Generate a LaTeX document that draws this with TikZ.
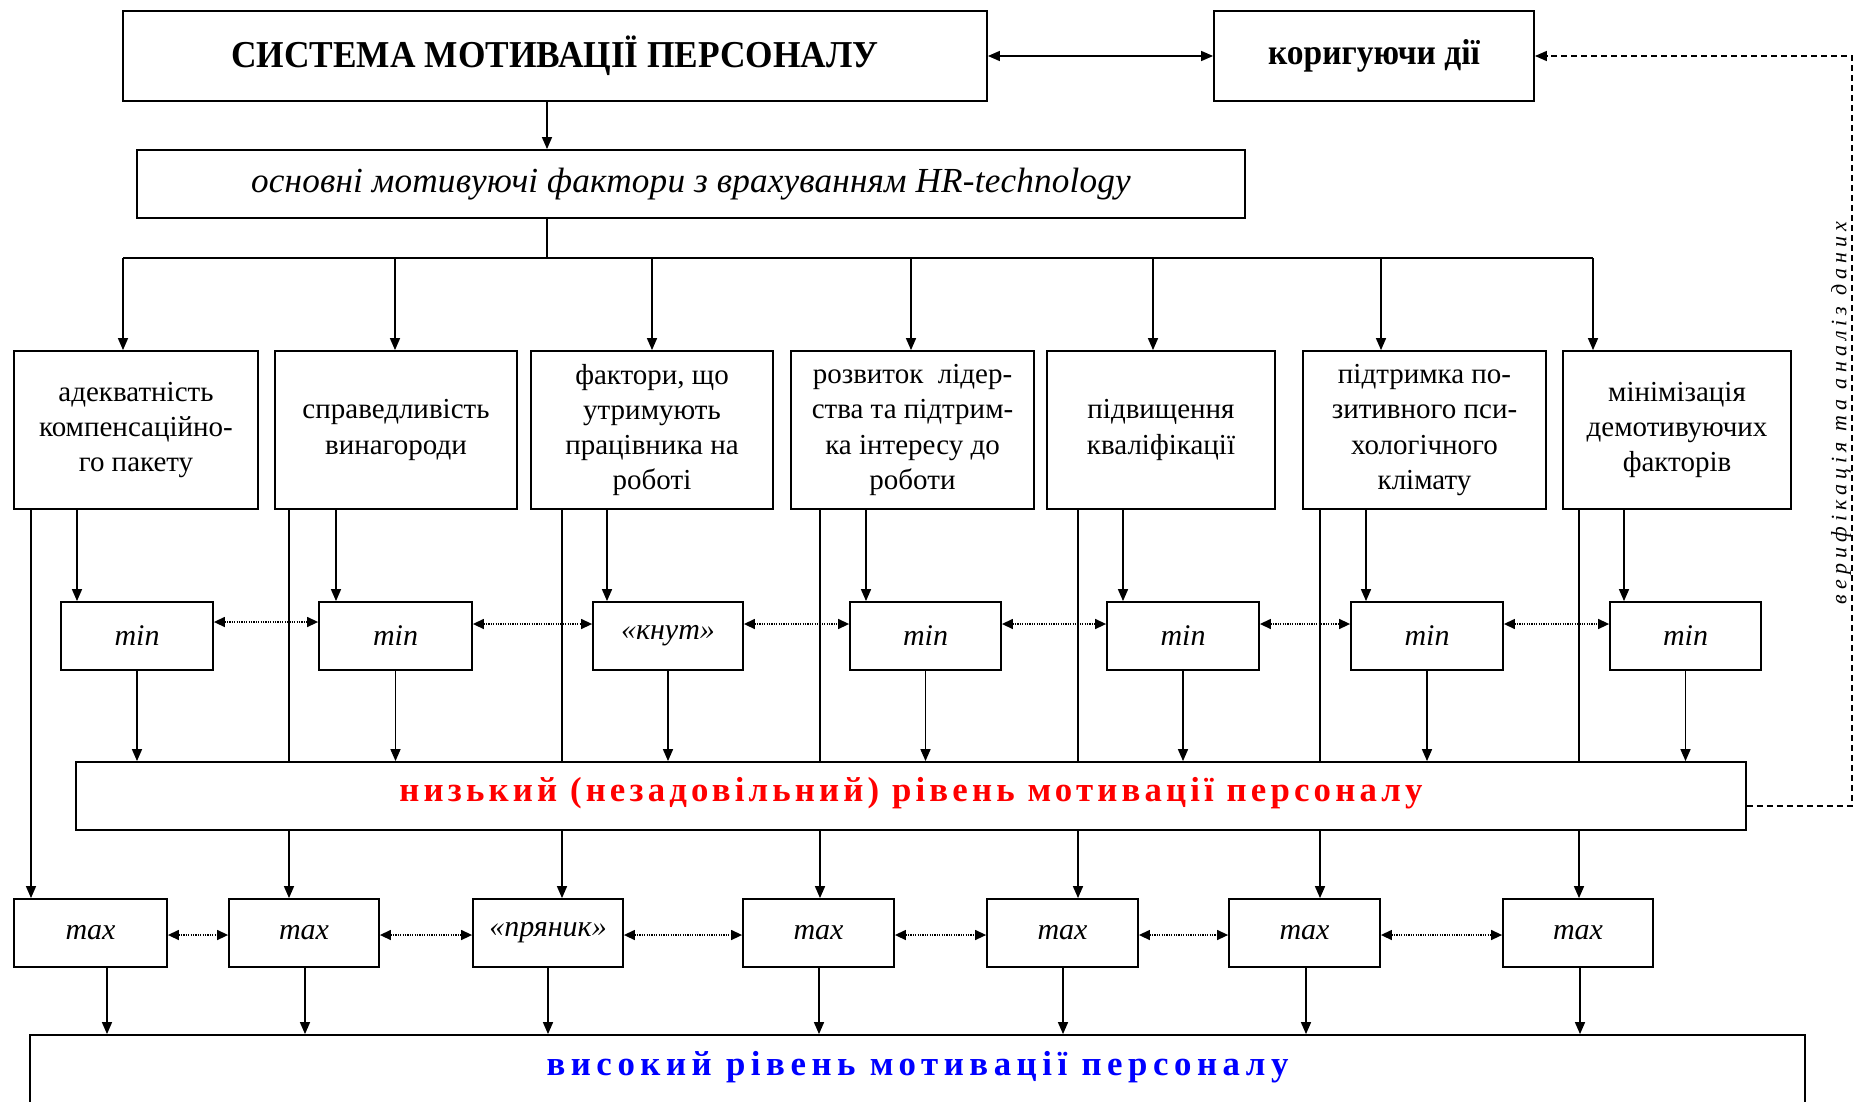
\documentclass[tikz,border=0pt]{standalone}
\usepackage{fontspec}
\setmainfont{Liberation Serif}
\newfontfamily\titlefont[FakeStretch=0.93]{Liberation Serif}
\newfontfamily\redfont[LetterSpace=12]{Liberation Serif}
\newfontfamily\bluefont[LetterSpace=16]{Liberation Serif}
\newfontfamily\vfont[LetterSpace=23]{Liberation Serif}
\newfontfamily\hrfont[LetterSpace=0.5]{Liberation Serif}
\usetikzlibrary{arrows.meta}
\tikzset{
  box/.style={draw, line width=0.9pt, inner sep=0pt, align=center,
    font=\fontsize{14.5}{17.6}\selectfont},
  mbox/.style={box, font=\itshape\fontsize{15}{18}\selectfont},
  ln/.style={line width=0.75pt},
  arr/.style={line width=0.75pt, -{Triangle[length=6pt,width=5pt]}},
  darr/.style={line width=0.75pt, {Triangle[length=6pt,width=5pt]}-{Triangle[length=6pt,width=5pt]}},
  dotarr/.style={line width=0.7pt, dash pattern=on 0.6pt off 0.6pt,
    {Triangle[length=5.5pt,width=5pt]}-{Triangle[length=5.5pt,width=5pt]}},
  fbline/.style={line width=0.75pt, dash pattern=on 3pt off 2pt, -{Triangle[length=6pt,width=5pt]}},
}
\newcommand\bx[7][]{\node[box,minimum width={(#5-#3)*0.5pt},minimum height={(#6-#4)*0.5pt},#1] (#2) at ({(#3+#5)/2},{(#4+#6)/2}) {#7};}
\begin{document}
\begin{tikzpicture}[x=0.5pt,y=-0.5pt]
\clip (0,0) rectangle (1867,1102);
% top
\bx[font=\titlefont\bfseries\fontsize{19}{22}\selectfont]{T1}{123}{11}{987}{101}{СИСТЕМА МОТИВАЦІЇ ПЕРСОНАЛУ}
\bx[font=\titlefont\bfseries\fontsize{18}{22}\selectfont]{T2}{1214}{11}{1534}{101}{коригуючи дії}
\bx[font=\hrfont\itshape\fontsize{17.6}{22}\selectfont]{HR}{137}{150}{1245}{218}{основні мотивуючі фактори з врахуванням HR-technology}
% factor boxes
\bx{f1}{14}{351}{258}{509}{адекватність\\компенсаційно-\\го пакету}
\bx{f2}{275}{351}{517}{509}{справедливість\\винагороди}
\bx{f3}{531}{351}{773}{509}{фактори, що\\утримують\\працівника на\\роботі}
\bx{f4}{791}{351}{1034}{509}{розвиток~~лідер-\\ства та підтрим-\\ка інтересу до\\роботи}
\bx{f5}{1047}{351}{1275}{509}{підвищення\\кваліфікації}
\bx{f6}{1303}{351}{1546}{509}{підтримка по-\\зитивного пси-\\хологічного\\клімату}
\bx{f7}{1563}{351}{1791}{509}{мінімізація\\демотивуючих\\факторів}
% min boxes
\bx[mbox]{m1}{61}{602}{213}{670}{min}
\bx[mbox]{m2}{319}{602}{472}{670}{min}
\bx[mbox]{m3}{593}{602}{743}{670}{«кнут»}
\bx[mbox]{m4}{850}{602}{1001}{670}{min}
\bx[mbox]{m5}{1107}{602}{1259}{670}{min}
\bx[mbox]{m6}{1351}{602}{1503}{670}{min}
\bx[mbox]{m7}{1610}{602}{1761}{670}{min}
% low level
\bx[font=\redfont\bfseries\fontsize{17.4}{20}\selectfont, text={rgb,255:red,255;green,0;blue,0}, text depth=6.5pt]{low}{76}{762}{1746}{830}{низький (незадовільний) рівень мотивації персоналу}
% max boxes
\bx[mbox]{x1}{14}{899}{167}{967}{max}
\bx[mbox]{x2}{229}{899}{379}{967}{max}
\bx[mbox]{x3}{473}{899}{623}{967}{«пряник»}
\bx[mbox]{x4}{743}{899}{894}{967}{max}
\bx[mbox]{x5}{987}{899}{1138}{967}{max}
\bx[mbox]{x6}{1229}{899}{1380}{967}{max}
\bx[mbox]{x7}{1503}{899}{1653}{967}{max}
% high level
\bx[font=\bluefont\bfseries\fontsize{17.4}{20}\selectfont, text={rgb,255:red,0;green,0;blue,255}, text depth=7pt]{high}{30}{1035}{1805}{1106}{високий рівень мотивації персоналу}
% vertical label
\node[rotate=90, inner sep=0pt, font=\vfont\itshape\fontsize{11}{13}\selectfont] (vt) at (1841,413) {верифікація та аналіз даних};
% coordinates
\coordinate (c0) at (547,0);
\coordinate (busL) at (123,258);
\coordinate (busR) at (1593,258);
\foreach \i/\a/\b/\c/\h in {1/123/31/77/107, 2/395/289/336/305, 3/652/562/607/548, 4/911/820/866/819, 5/1153/1078/1123/1063, 6/1381/1320/1366/1306, 7/1593/1579/1624/1580}{
  \coordinate (a\i) at (\a,0);
  \coordinate (b\i) at (\b,0);
  \coordinate (c\i) at (\c,0);
  \coordinate (h\i) at (\h,0);
}
\coordinate (fb) at (1852,0);
% top connectors
\draw[darr] (T1.east) -- (T2.west);
\draw[arr] (T1.south -| c0) -- (HR.north -| c0);
\draw[ln] (HR.south -| c0) -- (busL -| c0);
\draw[ln] (busL) -- (busR);
\foreach \i in {1,...,7}{
  \draw[arr] (busL -| a\i) -- (f\i.north -| a\i);
  \draw[arr] (f\i.south -| c\i) -- (m\i.north -| c\i);
  \draw[arr] (m\i.south) -- (m\i.south |- low.north);
  \draw[arr] (x\i.south -| h\i) -- (high.north -| h\i);
}
\draw[arr] (f1.south -| b1) -- (x1.north -| b1);
\foreach \i in {2,...,7}{
  \draw[ln] (f\i.south -| b\i) -- (low.north -| b\i);
  \draw[arr] (low.south -| b\i) -- (x\i.north -| b\i);
}
% dotted links
\draw[dotarr] ([yshift=7pt]m1.east) -- ([yshift=7pt]m2.west);
\foreach \i/\j in {2/3,3/4,4/5,5/6,6/7}{
  \draw[dotarr] ([yshift=6pt]m\i.east) -- ([yshift=6pt]m\j.west);
}
\foreach \i/\j in {1/2,2/3,3/4,4/5,5/6,6/7}{
  \draw[dotarr] ([yshift=-1pt]x\i.east) -- ([yshift=-1pt]x\j.west);
}
% feedback
\draw[fbline] ([yshift=-5pt]low.east) -| (fb |- T2.east) -- (T2.east);
\end{tikzpicture}
\end{document}
